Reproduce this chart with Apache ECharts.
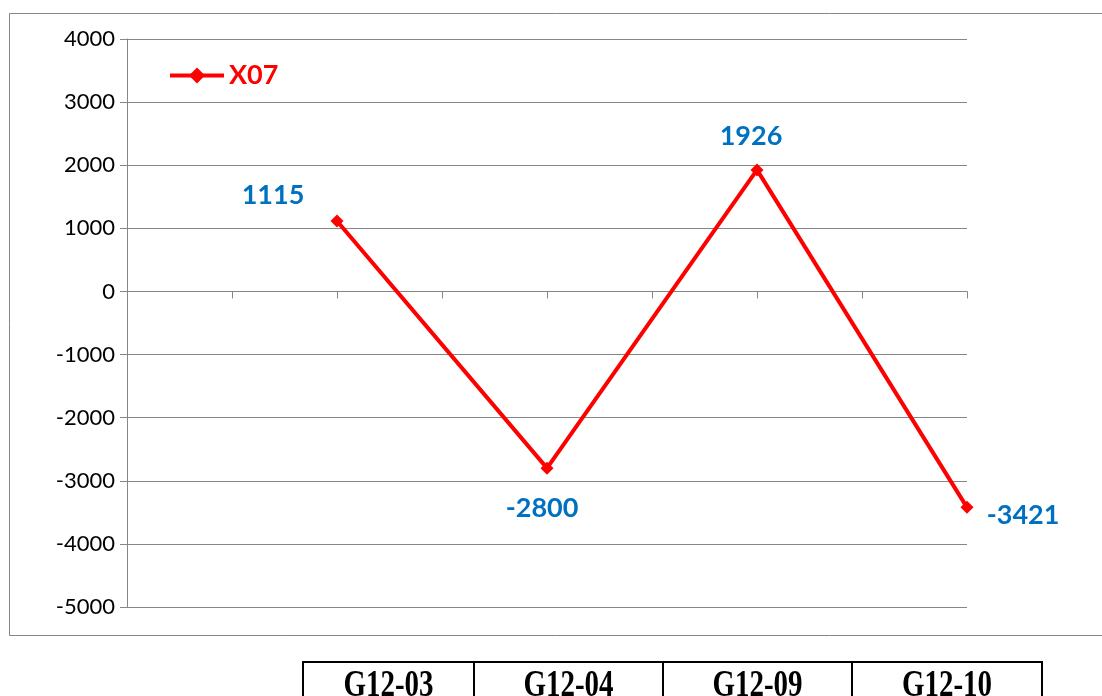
<!DOCTYPE html>
<html>
<head>
<meta charset="utf-8">
<script src="https://cdn.jsdelivr.net/npm/echarts@6/dist/echarts.min.js"></script>
<style>
  html, body { margin: 0; padding: 0; background: #fff; }
  #chart { width: 1102px; height: 696px; }
</style>
</head>
<body>
<div id="chart"></div>
<script>
// Series data
const seriesName = 'X07';
const categories = ['G12-03', 'G12-04', 'G12-09', 'G12-10'];
const values = [1115, -2800, 1926, -3421];
// Each category sits on every second tick of the horizontal axis
const slotsBefore = 2;
const slotStep = 2;
const yTicks = [-5000, -4000, -3000, -2000, -1000, 0, 1000, 2000, 3000, 4000];

// Data label offsets around each point
const labelOffsets = [[-64, -26], [-5, 40], [-6, -34], [56, 8]];

const slotCount = slotsBefore + (categories.length - 1) * slotStep + 1;
const axisData = new Array(slotCount).fill('');
const lineData = new Array(slotCount).fill(null);
categories.forEach((c, i) => {
  const idx = slotsBefore + i * slotStep;
  axisData[idx] = c;
  lineData[idx] = {
    value: values[i],
    label: { offset: labelOffsets[i] }
  };
});

const chart = echarts.init(document.getElementById('chart'), null, { renderer: 'canvas' });

const gray = '#868686';
const uiFont = 'Lato, "Open Sans", sans-serif';

// Table beneath the chart
const tableTop = 662;
const colEdges = [303, 474, 663, 852, 1042];
const tableGraphics = [];
tableGraphics.push({
  type: 'line', shape: { x1: colEdges[0] - 1, y1: tableTop, x2: colEdges[colEdges.length - 1] + 1, y2: tableTop },
  style: { stroke: '#000', lineWidth: 2 }
});
colEdges.forEach(x => {
  tableGraphics.push({
    type: 'line', shape: { x1: x, y1: tableTop, x2: x, y2: 720 },
    style: { stroke: '#000', lineWidth: 2 }
  });
});
categories.forEach((c, i) => {
  const cx = (colEdges[i] + colEdges[i + 1]) / 2;
  tableGraphics.push({
    type: 'text',
    x: cx, y: 667,
    scaleY: 1.3,
    style: {
      text: c,
      font: 'bold 29px "Liberation Serif", "Times New Roman", serif',
      fill: '#000',
      align: 'center',
      verticalAlign: 'top'
    }
  });
});

chart.setOption({
  animation: false,
  backgroundColor: '#fff',
  graphic: [
    {
      type: 'rect',
      shape: { x: 9.5, y: 13.5, width: 1110, height: 622 },
      style: { fill: 'none', stroke: gray, lineWidth: 1 }
    }
  ].concat(tableGraphics),
  grid: { left: 127, top: 39, right: 135, bottom: 89, containLabel: false },
  legend: {
    left: 163, top: 57,
    itemWidth: 54, itemHeight: 20,
    itemGap: 5,
    lineStyle: { width: 4, color: '#FF0000' },
    itemStyle: { color: '#FF0000' },
    textStyle: { color: '#FF0000', fontFamily: uiFont, fontWeight: 'bold', fontSize: 27 },
    data: [seriesName]
  },
  xAxis: {
    type: 'category',
    data: axisData,
    boundaryGap: false,
    axisLine: { onZero: true, lineStyle: { color: gray, width: 1 } },
    axisTick: { show: true, inside: false, length: 7, lineStyle: { color: gray } },
    axisLabel: { show: false },
    splitLine: { show: false }
  },
  yAxis: {
    type: 'value',
    min: yTicks[0],
    max: yTicks[yTicks.length - 1],
    interval: 1000,
    axisLine: { show: true, lineStyle: { color: gray, width: 1 } },
    axisTick: { show: true, length: 7, lineStyle: { color: gray } },
    axisLabel: {
      color: '#000', fontFamily: uiFont, fontSize: 22, margin: 12,
      formatter: v => String(v)
    },
    splitLine: { show: true, lineStyle: { color: gray, width: 1 } }
  },
  series: [{
    name: seriesName,
    type: 'line',
    data: lineData,
    connectNulls: true,
    symbol: 'diamond',
    symbolSize: 13,
    itemStyle: { color: '#FF0000' },
    lineStyle: { color: '#FF0000', width: 4 },
    label: {
      show: true,
      position: 'inside',
      color: '#0070C0',
      fontFamily: uiFont,
      fontWeight: 'bold',
      fontSize: 27
    }
  }]
});
</script>
</body>
</html>
